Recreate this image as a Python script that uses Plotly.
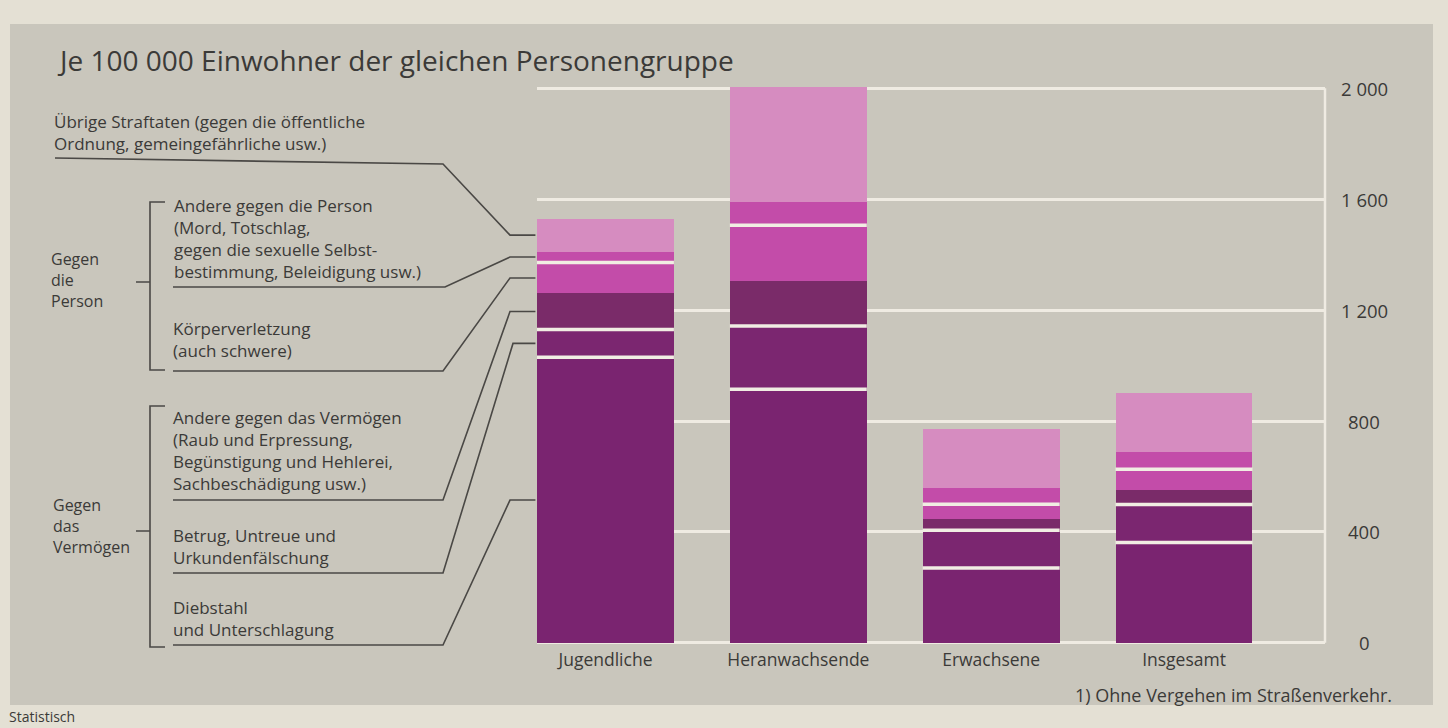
import plotly.graph_objects as go

# Canvas and plot-area geometry (pixels)
W, H = 1448, 728
M_L, M_R, M_T, M_B = 537, 123, 80, 81
PLOT_W = W - M_L - M_R
PLOT_H = H - M_T - M_B
Y_MIN, Y_MAX = -15, 2030
X_MIN, X_MAX = -0.355, 3.731
BAR_W = 0.71

# Verurteilte je 100 000 Einwohner der gleichen Personengruppe
categories = ["Jugendliche", "Heranwachsende", "Erwachsene", "Insgesamt"]
diebstahl = [1030, 915, 270, 362]
betrug = [100, 228, 136, 137]
andere_vermoegen = [130, 162, 40, 52]
koerperverletzung = [112, 201, 54, 75]
andere_person = [39, 83, 58, 61]
uebrige = [119, 416, 215, 215]

y_ticks = [0, 400, 800, 1200, 1600, 2000]
y_tick_labels = ["0", "400", "800", "1 200", "1 600", "2 000"]

# stacking order bottom -> top
series = [
    ("Diebstahl und Unterschlagung", diebstahl, "#7a2470"),
    ("Betrug, Untreue und Urkundenfälschung", betrug, "#7b2670"),
    ("Andere gegen das Vermögen", andere_vermoegen, "#7a2b69"),
    ("Körperverletzung", koerperverletzung, "#c34ca9"),
    ("Andere gegen die Person", andere_person, "#c34ca9"),
    ("Übrige Straftaten", uebrige, "#d68cc0"),
]
# a white rule is drawn on top of these segments
white_rule_after = {"Diebstahl und Unterschlagung",
                    "Betrug, Untreue und Urkundenfälschung",
                    "Körperverletzung"}

TEXT = "#3b3a38"
LINE = "#4a4845"
FONT = "Open Sans"


def px_x(px):
    return (px - M_L) / PLOT_W


def px_y(py):
    return 1 - (py - M_T) / PLOT_H


def py_to_data(py):
    return Y_MAX - (py - M_T) / PLOT_H * (Y_MAX - Y_MIN)


fig = go.Figure()
for name, vals, col in series:
    fig.add_trace(go.Bar(x=categories, y=vals, name=name, width=BAR_W,
                         marker=dict(color=col, line=dict(width=0)),
                         showlegend=False, hoverinfo="skip"))

shapes = []
annotations = []

# grey board behind the chart
shapes.append(dict(type="rect", xref="paper", yref="paper", layer="below",
                   x0=px_x(10), x1=px_x(1433), y0=px_y(705), y1=px_y(24),
                   fillcolor="#c9c6bc", line=dict(width=0)))

# right-hand vertical scale rule
shapes.append(dict(type="line", xref="paper", yref="y", layer="below",
                   x0=1, x1=1, y0=0, y1=2000,
                   line=dict(color="#efebe2", width=2.5)))

# white rules between segments of the same colour
cum = [0] * len(categories)
mids_first = {}
for name, vals, col in series:
    for i, v in enumerate(vals):
        if i == 0:
            mids_first[name] = cum[0] + v / 2
        cum[i] += v
        if name in white_rule_after:
            shapes.append(dict(type="line", xref="x", yref="y",
                               x0=i - BAR_W / 2, x1=i + BAR_W / 2,
                               y0=cum[i], y1=cum[i],
                               line=dict(color="#f1ede3", width=3.5)))

# left edge of the first bar, in paper units
bar_edge = (0 - BAR_W / 2 - X_MIN) / (X_MAX - X_MIN)

# leader lines from the labels to the first bar
leaders = {
    "Übrige Straftaten": ([(55, 158), (443, 164)], 510),
    "Andere gegen die Person": ([(173, 287), (445, 287)], 510),
    "Körperverletzung": ([(173, 371), (443, 371)], 510),
    "Andere gegen das Vermögen": ([(173, 500), (443, 500)], 510),
    "Betrug, Untreue und Urkundenfälschung": ([(173, 573), (443, 573)], 513),
    "Diebstahl und Unterschlagung": ([(173, 645), (443, 645)], 510),
}
for name, (pts, knee) in leaders.items():
    target = mids_first[name]
    coords = [(px_x(x), py_to_data(y)) for x, y in pts]
    coords += [(px_x(knee), target), (bar_edge - 0.002, target)]
    path = "M " + " L ".join(f"{x:.5f},{y:.3f}" for x, y in coords)
    shapes.append(dict(type="path", xref="paper", yref="y", path=path,
                       line=dict(color=LINE, width=1.6)))

# brackets for the two groups
for top, bot, mid in [(202, 370, 282), (406, 647, 531)]:
    p = (f"M {px_x(165)},{px_y(top)} L {px_x(150)},{px_y(top)} "
         f"L {px_x(150)},{px_y(bot)} L {px_x(165)},{px_y(bot)} "
         f"M {px_x(136)},{px_y(mid)} L {px_x(150)},{px_y(mid)}")
    shapes.append(dict(type="path", xref="paper", yref="paper", path=p,
                       line=dict(color=LINE, width=1.6)))


def label(lines, x, y, size=17, anchor="left"):
    annotations.append(dict(text="<br>".join(lines), xref="paper",
                            yref="paper", x=px_x(x), y=px_y(y),
                            xanchor=anchor, yanchor="middle", align=anchor,
                            showarrow=False, borderpad=0,
                            font=dict(family=FONT, size=size, color=TEXT)))


label(["Je 100 000 Einwohner der gleichen Personengruppe"], 56, 60, size=28)

label(["Übrige Straftaten (gegen die öffentliche",
       "Ordnung, gemeingefährliche usw.)"], 53, 133)
label(["Andere gegen die Person", "(Mord, Totschlag,",
       "gegen die sexuelle Selbst-",
       "bestimmung, Beleidigung usw.)"], 173, 238)
label(["Gegen", "die", "Person"], 50, 280, size=16)
label(["Körperverletzung", "(auch schwere)"], 172, 339)
label(["Andere gegen das Vermögen", "(Raub und Erpressung,",
       "Begünstigung und Hehlerei,",
       "Sachbeschädigung usw.)"], 172, 450)
label(["Gegen", "das", "Vermögen"], 52, 526, size=16)
label(["Betrug, Untreue und", "Urkundenfälschung"], 172, 546)
label(["Diebstahl", "und Unterschlagung"], 172, 618)

label(["1) Ohne Vergehen im Straßenverkehr."], 1393, 695, size=18,
      anchor="right")
label(["Statistisch"], 8, 716, size=14)

# scale labels, centred right of the plot
for v, t in zip(y_ticks, y_tick_labels):
    annotations.append(dict(text=t, xref="paper", yref="y", x=px_x(1364),
                            y=v, xanchor="center", yanchor="middle",
                            showarrow=False,
                            font=dict(family=FONT, size=18.5, color=TEXT)))

fig.update_layout(
    width=W, height=H,
    margin=dict(l=M_L, r=M_R, t=M_T, b=M_B, pad=0),
    paper_bgcolor="#e4e0d4",
    plot_bgcolor="rgba(0,0,0,0)",
    barmode="stack",
    shapes=shapes,
    annotations=annotations,
    xaxis=dict(type="category", range=[X_MIN, X_MAX],
               showgrid=False, zeroline=False, showline=False,
               ticks="", tickfont=dict(family=FONT, size=17.5, color=TEXT)),
    yaxis=dict(range=[Y_MIN, Y_MAX], side="right", tickvals=y_ticks,
               showticklabels=False, showgrid=True, gridcolor="#efebe2",
               gridwidth=2.5, zeroline=False, showline=False, ticks=""),
)

fig.write_html("out.html")
